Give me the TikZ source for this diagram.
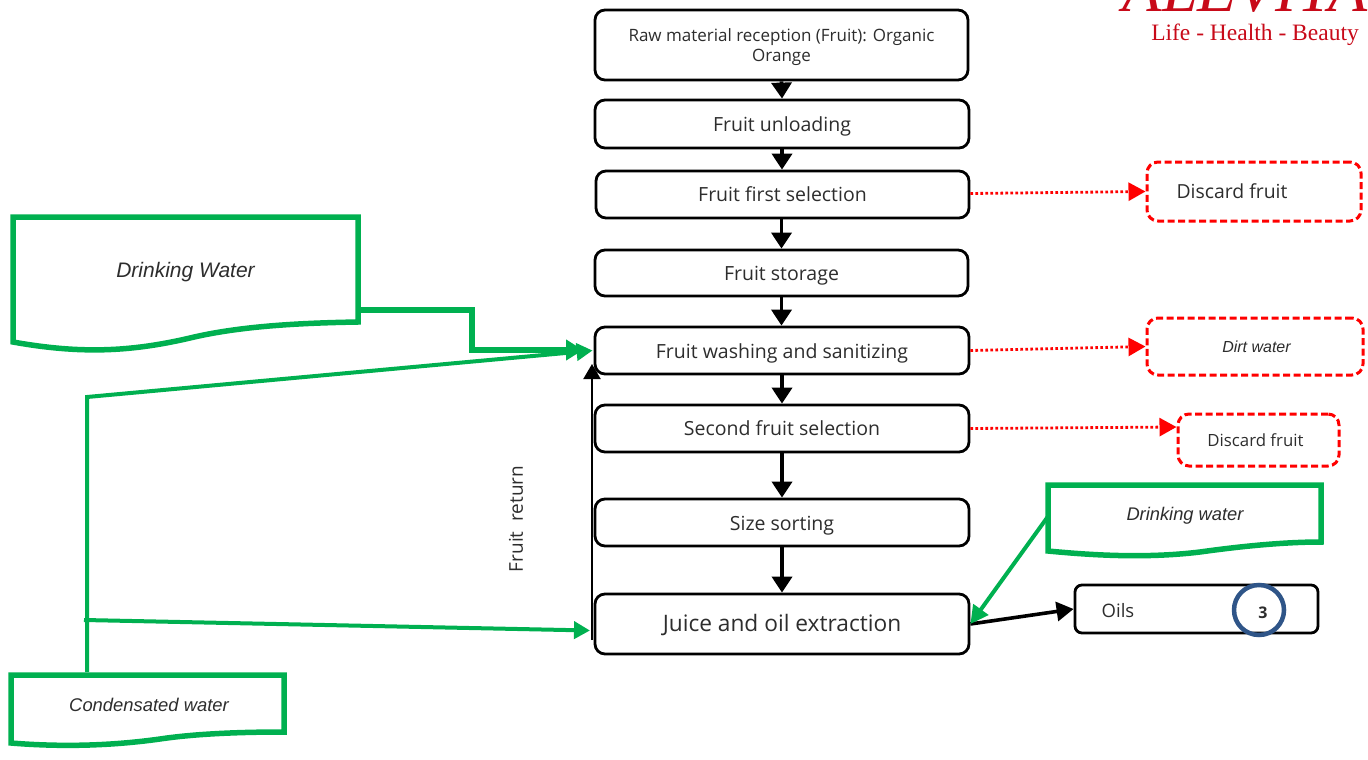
\documentclass[tikz,border=0pt]{standalone}
\usepackage{fontspec}
\setmainfont{Open Sans}
\newfontfamily\itfont{Liberation Sans}
\newfontfamily\logofont{Liberation Serif}
\usetikzlibrary{arrows.meta}
\definecolor{flowgreen}{RGB}{0,176,80}
\definecolor{flowred}{RGB}{255,0,0}
\definecolor{logored}{RGB}{200,10,25}
\definecolor{ringblue}{RGB}{47,85,136}
\definecolor{inkgray}{RGB}{45,45,45}
\tikzset{
  x=1pt,y=-1pt,
  stepbox/.style={draw=black,line width=2.8pt,rounded corners=10pt,fill=white,align=center,text=inkgray,inner sep=0pt,font=\fontsize{19.5}{20}\selectfont},
  wastebox/.style={draw=flowred,line width=3pt,dash pattern=on 7pt off 3.5pt,rounded corners=11pt,align=center,text=inkgray,inner sep=0pt,font=\fontsize{19.4}{20}\selectfont},
  docbox/.style={inner sep=0pt,align=center,text=inkgray,font=\itfont\itshape\fontsize{21}{22}\selectfont},
  flowarrow/.style={draw=black,line width=3.6pt,-{Triangle[length=16pt,width=20pt]}},
  reddot/.style={draw=flowred,line width=2.8pt,dash pattern=on 2.6pt off 2.4pt,-{Triangle[length=17pt,width=18pt]}},
  greenline/.style={draw=flowgreen,line width=4pt,-{Triangle[length=16pt,width=17pt]}},
  greenedge/.style={draw=flowgreen,line width=5.5pt,line join=miter},
}
\newcommand{\stepnode}[7][]{\node[stepbox,minimum width=#4-#3,minimum height=#6-#5,#1] (#2) at ({(#3+#4)/2},{(#5+#6)/2}) {#7};}
\newcommand{\tshift}[2]{\raisebox{-#1pt}[0pt][0pt]{#2}}
\begin{document}
\begin{tikzpicture}
\useasboundingbox (0,0) rectangle (1368,760);
% logo
\begin{scope}
\clip (1100,0) rectangle (1368,16);
\node[text=logored,font=\logofont\itshape\fontsize{64}{64}\selectfont,anchor=base,inner sep=0pt] (logomark) at (1245,12) {ALEVITA};
\end{scope}
\node[text=logored,font=\logofont\fontsize{23.5}{25}\selectfont,inner sep=0pt] (tagline) at (1255,35) {Life - Health - Beauty};
% process steps
\stepnode[font=\fontsize{17}{20}\selectfont]{raw}{595}{968}{10}{80}{\rule{0pt}{18pt}Raw material reception (Fruit): Organic\\Orange}
\stepnode{unload}{595}{969}{100}{148}{\tshift{7}{Fruit unloading}}
\stepnode{first}{596}{969}{171}{218}{\tshift{6.5}{Fruit first selection}}
\stepnode{storage}{595}{968}{250}{296}{\tshift{7}{Fruit storage}}
\stepnode{wash}{595}{969}{327}{374}{\tshift{7.5}{Fruit washing and sanitizing}}
\stepnode{second}{595}{969}{405}{452}{\tshift{6.5}{Second fruit selection}}
\stepnode{sizing}{595}{969}{499}{546}{\tshift{7.5}{Size sorting}}
\stepnode[font=\fontsize{22.7}{24}\selectfont]{juice}{595}{969}{594}{654}{\tshift{7}{Juice and oil extraction}}
% waste
\node[wastebox,minimum width=214,minimum height=59] (disc1) at (1254,191.5) {\hspace*{-44pt}Discard fruit};
\node[wastebox,minimum width=216,minimum height=57,font=\itfont\itshape\fontsize{16}{18}\selectfont] (dirt) at (1255,346.5) {\hspace*{3pt}Dirt water};
\node[wastebox,minimum width=161,minimum height=52,font=\fontsize{16.8}{18}\selectfont] (disc2) at (1258.5,440) {\hspace*{-6pt}Discard fruit};
% oils
\node[stepbox,minimum width=243,minimum height=48,rounded corners=7pt,font=\fontsize{18.5}{20}\selectfont] (oils) at (1196.5,609) {\tshift{8}{\hspace*{-157pt}Oils}};
\node[draw=ringblue,line width=4.5pt,circle,minimum size=50,inner sep=0pt,text=inkgray,font=\bfseries\fontsize{16}{18}\selectfont] (ring) at (1259,610) {\tshift{8}{\hspace*{8pt}3}};
% documents
\node[docbox,minimum width=345,minimum height=125] (dwbig) at (185.5,272) {Drinking Water};
\draw[greenedge] (358,322) -- (358,217) -- (13,217) -- (13,342)
  .. controls (80,354) and (130,352) .. (190,338) .. controls (240,326) and (300,323) .. (358,322) -- cycle;
\node[docbox,minimum width=273,minimum height=57,font=\itfont\itshape\fontsize{18.3}{20}\selectfont] (dwsmall) at (1185,516) {Drinking water};
\draw[greenedge] (1321,542) -- (1321,485) -- (1048,485) -- (1048,551)
  .. controls (1100,556) and (1150,558) .. (1200,552) .. controls (1250,545) and (1290,542) .. (1321,542) -- cycle;
\node[docbox,minimum width=273,minimum height=58,font=\itfont\itshape\fontsize{18.4}{20}\selectfont] (cond) at (149,705) {Condensated water};
\draw[greenedge] (284,732) -- (284,675) -- (11,675) -- (11,743)
  .. controls (60,747) and (110,746) .. (160,739) .. controls (200,733) and (250,732) .. (284,732) -- cycle;
% helper points
\coordinate (condup) at (87,672);
\coordinate (condtop) at (87,397);
\coordinate (condbr) at (84,620);
\coordinate (dwout) at (360,310);
\coordinate (dwmid) at (472,310);
\coordinate (dwlow) at (472,350);
\coordinate (washin) at ([xshift=-1pt]wash.west);
\coordinate (juicein) at (590,630.5);
\coordinate (retstart) at (592,640);
\coordinate (retend) at (592,364);
\coordinate (disc2in) at ([yshift=13pt]disc2.west);
\coordinate (firstout) at ([yshift=1pt]first.east);
% black flow
\draw[flowarrow] (raw.south) -- (unload.north);
\draw[flowarrow] (unload.south) -- (first.north -| unload.south);
\draw[flowarrow] (first.south -| raw.south) -- (storage.north -| raw.south);
\draw[flowarrow] (storage.south) -- (wash.north -| storage.south);
\draw[flowarrow] (wash.south) -- (second.north);
\draw[flowarrow] (second.south) -- (sizing.north);
\draw[flowarrow] (sizing.south) -- (juice.north);
\draw[flowarrow,-{Triangle[length=17pt,width=19pt]}] (juice.east) -- (oils.west);
\draw[draw=black,line width=2pt,-{Triangle[length=15pt,width=17pt]}] (retstart) -- (retend);
\node[rotate=90,text=inkgray,font=\fontsize{19}{22}\selectfont] (retlabel) at (516,519) {Fruit\ \ return};
% red flow
\draw[reddot] (firstout) -- (disc1.west);
\draw[reddot] (wash.east) -- (dirt.west);
\draw[reddot] (second.east) -- (disc2in);
% green flow
\draw[greenedge] (dwout) -- (dwmid) -- (dwlow) -- (570,350);
\draw[greenline,line width=5.5pt,-{Triangle[length=17pt,width=20pt]}] (550,350) -- (583,350);
\draw[greenline] (condup) -- (condtop) -- (washin);
\draw[greenline] (condbr) -- (juicein);
\draw[greenline,-{Triangle[length=18pt,width=18pt]}] (dwsmall.west) -- (juice.east);
\end{tikzpicture}
\end{document}
